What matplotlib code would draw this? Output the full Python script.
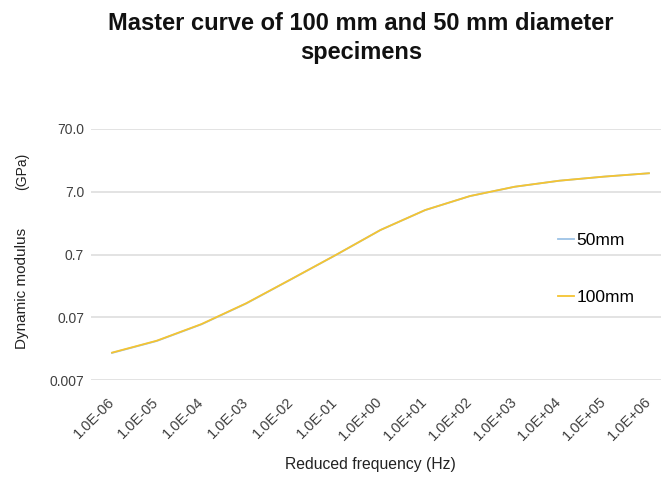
import matplotlib
matplotlib.use("Agg")
import matplotlib.pyplot as plt
from matplotlib.ticker import FixedLocator, FixedFormatter

plt.rcParams['font.family'] = ['Liberation Sans', 'DejaVu Sans']

freq_labels = ["1.0E-06", "1.0E-05", "1.0E-04", "1.0E-03", "1.0E-02", "1.0E-01",
               "1.0E+00", "1.0E+01", "1.0E+02", "1.0E+03", "1.0E+04", "1.0E+05", "1.0E+06"]
mod_50mm = [0.0189, 0.0293, 0.0540, 0.116, 0.281, 0.685, 1.72, 3.57, 5.97, 8.40, 10.5, 12.2, 13.8]
mod_100mm = [0.0191, 0.0296, 0.0545, 0.117, 0.282, 0.687, 1.72, 3.58, 5.98, 8.42, 10.5, 12.2, 13.8]
y_ticks = [0.007, 0.07, 0.7, 7.0, 70.0]
y_tick_labels = ["0.007", "0.07", "0.7", "7.0", "70.0"]

fig = plt.figure(figsize=(6.61, 4.79), dpi=100)
ax = fig.add_axes([91/661, 1 - 380/479, 1 - 91/661, 251/479])

x = list(range(len(freq_labels)))
ax.plot(x, mod_50mm, color="#9dc3e6", lw=1.3, label="50mm")
ax.plot(x, mod_100mm, color="#f5c431", lw=1.3, label="100mm")

ax.set_yscale("log")
ax.set_ylim(0.007, 70)
ax.set_xlim(-0.47, 12.27)
ax.yaxis.set_major_locator(FixedLocator(y_ticks))
ax.yaxis.set_major_formatter(FixedFormatter(y_tick_labels))
ax.yaxis.set_minor_locator(FixedLocator([]))
ax.set_xticks(x)
ax.set_xticklabels(freq_labels, rotation=45, ha="right", va="center",
                   rotation_mode="anchor", fontsize=10.5, color="#404040")
ax.tick_params(axis="x", length=0, pad=14)
ax.tick_params(axis="y", length=0, pad=5, labelsize=10, labelcolor="#404040")
ax.grid(axis="y", color="#e0e0e0", lw=1.3)
ax.set_axisbelow(True)
for s in ax.spines.values():
    s.set_visible(False)

fig.text(361/661, 1 - 38/479, "Master curve of 100 mm and 50 mm diameter\nspecimens",
         ha="center", va="center", fontsize=17, fontweight="bold",
         linespacing=1.3, color="#111111")
fig.text(370/661, 1 - 465/479, "Reduced frequency (Hz)", ha="center", va="center",
         fontsize=11.3, color="#222222")
fig.text(22/661, 1 - 288/479, "Dynamic modulus", rotation=90, ha="center", va="center",
         fontsize=11, color="#222222")
fig.text(22/661, 1 - 171/479, "(GPa)", rotation=90, ha="center", va="center",
         fontsize=10, color="#222222")

ax.legend(loc="upper left", bbox_to_anchor=(558/661, 1 - 233/479), bbox_transform=fig.transFigure,
          frameon=False, fontsize=12.5, handlelength=0.95, handletextpad=0.1,
          labelspacing=2.4, borderpad=0, borderaxespad=0)

fig.savefig("out.png", dpi=100)
